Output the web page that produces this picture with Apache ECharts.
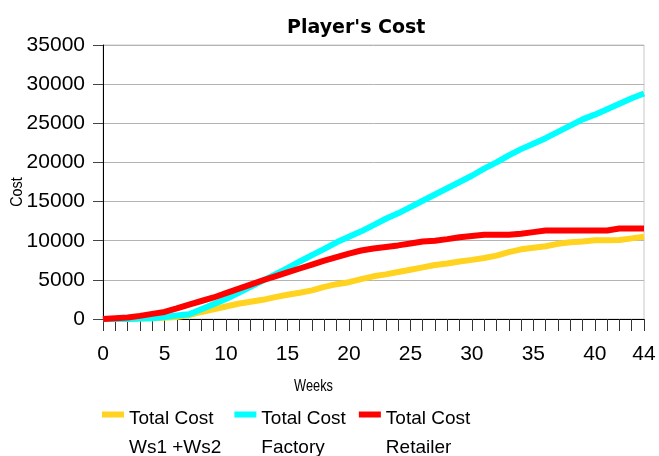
<!DOCTYPE html>
<html>
<head>
<meta charset="utf-8">
<script src="https://cdn.jsdelivr.net/npm/echarts@6/dist/echarts.min.js"></script>
<style>
  html, body { margin: 0; padding: 0; background: #fff; }
  #chart { width: 659px; height: 456px; }
</style>
</head>
<body>
<div id="chart"></div>
<script>
// Weekly cumulative cost per player role
const weeks = Array.from({ length: 45 }, (_, i) => i);

const costWholesalers = [
  0, 0, 0, 50, 100, 150, 250, 500, 900, 1250,
  1600, 1950, 2200, 2450, 2800, 3100, 3350, 3650, 4100, 4450,
  4700, 5100, 5450, 5700, 6000, 6300, 6600, 6900, 7100, 7350,
  7550, 7800, 8100, 8550, 8900, 9100, 9300, 9600, 9800, 9900,
  10050, 10050, 10100, 10300, 10500
];

const costFactory = [
  0, 0, 0, 50, 100, 250, 450, 600, 1250, 1900,
  2550, 3300, 4100, 4900, 5700, 6500, 7350, 8150, 8950, 9800,
  10500, 11200, 12000, 12800, 13500, 14300, 15100, 15900, 16700, 17500,
  18300, 19200, 20000, 20900, 21700, 22400, 23100, 23900, 24700, 25500,
  26100, 26800, 27500, 28200, 28800
];

const costRetailer = [
  0, 100, 200, 400, 650, 900, 1350, 1850, 2300, 2750,
  3300, 3850, 4400, 4950, 5450, 5950, 6450, 6950, 7450, 7900,
  8350, 8750, 9000, 9200, 9400, 9650, 9900, 10000, 10200, 10450,
  10600, 10750, 10750, 10750, 10900, 11100, 11300, 11300, 11300, 11300,
  11300, 11300, 11550, 11550, 11550
];

const seriesNames = ['Total Cost Ws1 +Ws2', 'Total Cost Factory', 'Total Cost Retailer'];
const legendLines = [['Total Cost', 'Ws1 +Ws2'], ['Total Cost', 'Factory'], ['Total Cost', 'Retailer']];
const xTickLabels = [0, 5, 10, 15, 20, 25, 30, 35, 40, 44];
const yTickLabels = [0, 5000, 10000, 15000, 20000, 25000, 30000, 35000];

const FONT = '"Liberation Sans", Arial, sans-serif';

function pairs(values) {
  return weeks.map((w, i) => [w, values[i]]);
}

const chart = echarts.init(document.getElementById('chart'), null, { renderer: 'canvas' });

chart.setOption({
  backgroundColor: '#ffffff',
  animation: false,
  title: {
    text: "Player's Cost",
    left: 287,
    top: 19,
    padding: 0,
    textStyle: { fontFamily: '"DejaVu Sans", sans-serif', fontWeight: 'bold', fontSize: 19, color: '#000' }
  },
  grid: {
    left: 103, right: 15, top: 45, bottom: 137,
    show: true, borderColor: '#c8c8c8', borderWidth: 1, backgroundColor: 'transparent'
  },
  legend: {
    left: 97,
    top: 371,
    itemWidth: 22,
    itemHeight: 6,
    itemGap: 13,
    icon: 'rect',
    data: seriesNames,
    formatter: name => {
      const lines = legendLines[seriesNames.indexOf(name)];
      return '{s| }\n{t|' + lines[0] + '}\n{t|' + lines[1] + '}';
    },
    textStyle: {
      color: '#000', fontFamily: FONT, fontSize: 19,
      rich: {
        s: { lineHeight: 38, fontSize: 19, fontFamily: FONT },
        t: { lineHeight: 29, fontSize: 19, fontFamily: FONT, color: '#000' }
      }
    }
  },
  xAxis: {
    type: 'value',
    min: 0,
    max: 44,
    interval: 1,
    axisLine: { show: true, onZero: false, lineStyle: { color: '#000', width: 1 } },
    axisTick: { show: true, inside: false, length: 12, lineStyle: { color: '#333' } },
    axisLabel: {
      margin: 25,
      color: '#000', fontFamily: FONT, fontSize: 21,
      showMinLabel: true, showMaxLabel: true,
      formatter: v => (xTickLabels.includes(v) ? String(v) : '')
    },
    splitLine: { show: false }
  },
  yAxis: {
    type: 'value',
    min: yTickLabels[0],
    max: yTickLabels[yTickLabels.length - 1],
    interval: 5000,
    axisLine: { show: true, lineStyle: { color: '#000', width: 1 } },
    axisTick: { show: true, inside: false, length: 10, lineStyle: { color: '#444' } },
    axisLabel: {
      margin: 18, color: '#000', fontFamily: FONT, fontSize: 21,
      formatter: v => String(v)
    },
    splitLine: { show: true, lineStyle: { color: '#b4b4b4', width: 1 } }
  },
  graphic: [
    {
      type: 'text', x: 313.5, y: 386.5, scaleX: 0.8,
      style: { text: 'Weeks', font: '16px ' + FONT, fill: '#000', align: 'center', verticalAlign: 'middle' }
    },
    {
      type: 'text', x: 17.5, y: 192, rotation: Math.PI / 2, scaleX: 0.9,
      style: { text: 'Cost', font: '16px ' + FONT, fill: '#000', align: 'center', verticalAlign: 'middle' }
    }
  ],
  series: [
    {
      name: seriesNames[0], type: 'line', data: pairs(costWholesalers),
      showSymbol: false, symbol: 'none', clip: false,
      itemStyle: { color: '#ffd320' },
      lineStyle: { color: '#ffd320', width: 6, join: 'round' }
    },
    {
      name: seriesNames[1], type: 'line', data: pairs(costFactory),
      showSymbol: false, symbol: 'none', clip: false,
      itemStyle: { color: '#00ffff' },
      lineStyle: { color: '#00ffff', width: 6, join: 'round' }
    },
    {
      name: seriesNames[2], type: 'line', data: pairs(costRetailer),
      showSymbol: false, symbol: 'none', clip: false,
      itemStyle: { color: '#ff0000' },
      lineStyle: { color: '#ff0000', width: 6, join: 'round' }
    }
  ]
});
</script>
</body>
</html>
